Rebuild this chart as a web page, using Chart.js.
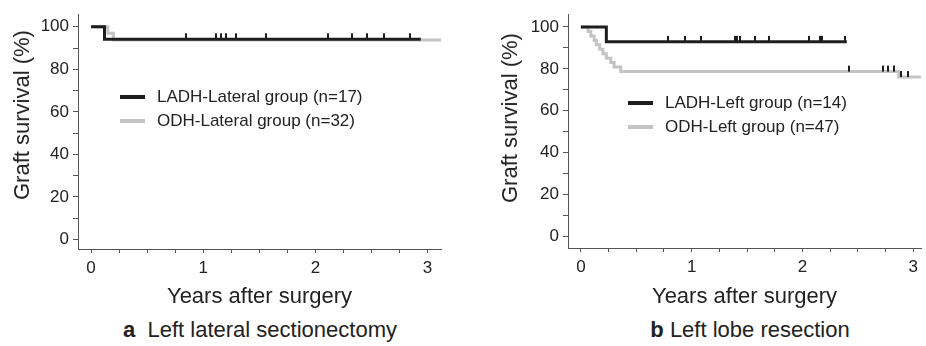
<!DOCTYPE html>
<html>
<head>
<meta charset="utf-8">
<script src="https://cdn.jsdelivr.net/npm/chart.js@4.4.1/dist/chart.umd.min.js"></script>
<style>
  body { margin: 0; background: #fff; width: 926px; height: 346px; overflow: hidden;
         font-family: "Liberation Sans", Arial, sans-serif; color: #222; position: relative; }
  .panel { position: absolute; top: 0; width: 463px; height: 346px; }
  .panel canvas { position: absolute; left: 0; top: 0; }
  .legend { position: absolute; font-size: 17px; line-height: 24px; white-space: nowrap; }
  .legend div { display: flex; align-items: center; height: 24px; }
  .sw { display: inline-block; width: 25px; height: 4px; margin-right: 12px; }
  .ytitle { position: absolute; font-size: 22px; white-space: nowrap;
            transform: translate(-50%, -50%) rotate(-90deg); }
  .caption { position: absolute; top: 317px; font-size: 22px; line-height: 26px;
             white-space: nowrap; transform: translateX(-50%); }
</style>
</head>
<body>
<div class="panel" style="left:0">
  <canvas id="chartA" width="463" height="310"></canvas>
  <div class="ytitle" style="left:22px;top:115px">Graft survival (%)</div>
  <div class="legend" style="left:120px;top:85px">
    <div><span class="sw" style="background:#1e1e1e"></span>LADH-Lateral group (n=17)</div>
    <div><span class="sw" style="background:#c4c4c4"></span>ODH-Lateral group (n=32)</div>
  </div>
  <div class="caption" style="left:260px"><b>a</b>&nbsp; Left lateral sectionectomy</div>
</div>
<div class="panel" style="left:463px">
  <canvas id="chartB" width="463" height="310"></canvas>
  <div class="ytitle" style="left:47px;top:118px">Graft survival (%)</div>
  <div class="legend" style="left:165px;top:91px">
    <div><span class="sw" style="background:#1e1e1e"></span>LADH-Left group (n=14)</div>
    <div><span class="sw" style="background:#c4c4c4"></span>ODH-Left group (n=47)</div>
  </div>
  <div class="caption" style="left:287px"><b>b</b> Left lobe resection</div>
</div>
<script>
// panel a: left lateral sectionectomy
const latLadhTimes = [0, 0.12, 2.94];
const latLadhSurv = [100, 94.1, 94.1];
const latLadhCensor = [0.85, 1.11, 1.16, 1.20, 1.29, 1.56, 2.11, 2.33, 2.46, 2.61, 2.84];
const latOdhTimes = [0, 0.15, 0.2, 3.12];
const latOdhSurv = [100, 96.9, 93.8, 93.8];

// panel b: left lobe resection
const lobeLadhTimes = [0, 0.23, 2.40];
const lobeLadhSurv = [100, 92.9, 92.9];
const lobeLadhCensor = [0.79, 0.94, 1.08, 1.39, 1.41, 1.44, 1.57, 1.70, 2.06, 2.16, 2.18, 2.38];
const lobeOdhTimes = [0, 0.065, 0.09, 0.12, 0.14, 0.17, 0.2, 0.23, 0.27, 0.3, 0.36, 2.87, 3.07];
const lobeOdhSurv = [100, 97.9, 95.7, 93.6, 91.5, 89.4, 87.2, 85.1, 83.0, 80.9, 78.7, 76.1, 76.1];
const lobeOdhCensor = [2.42, 2.73, 2.77, 2.83, 2.89, 2.95];

const yTicks = [0, 10, 20, 30, 40, 50, 60, 70, 80, 90, 100];
const yLabels = [0, 20, 40, 60, 80, 100];
const xTicks = [0, 0.25, 0.5, 0.75, 1, 1.25, 1.5, 1.75, 2, 2.25, 2.5, 2.75, 3];
const xLabels = [0, 1, 2, 3];

const DARK = "#1e1e1e";
const GRAY = "#c4c4c4";
const AXIS = "#555";

// censor mark: short vertical tick sitting on top of the curve
const tickImg = document.createElement("canvas");
tickImg.width = 2;
tickImg.height = 14;
const tctx = tickImg.getContext("2d");
tctx.fillStyle = DARK;
tctx.fillRect(0, 1, 2, 6);

function survAt(times, surv, t) {
  let s = surv[0];
  times.forEach((tt, i) => { if (tt <= t) s = surv[i]; });
  return s;
}

function curve(times, surv, color) {
  return {
    data: times.map((t, i) => ({ x: t, y: surv[i] })),
    borderColor: color, borderWidth: 3, stepped: true,
    pointRadius: 0, fill: false,
  };
}

function censors(times, surv, marks) {
  return {
    data: marks.map(t => ({ x: t, y: survAt(times, surv, t) })),
    showLine: false, pointStyle: tickImg, pointRadius: 4,
  };
}

function makeChart(id, cfg) {
  new Chart(document.getElementById(id), {
    type: "line",
    data: { datasets: cfg.datasets },
    options: {
      responsive: false,
      animation: false,
      layout: { padding: { left: 0, right: cfg.padRight, top: cfg.padTop, bottom: 0 } },
      plugins: { legend: { display: false }, tooltip: { enabled: false } },
      scales: {
        x: {
          type: "linear", min: -0.116, max: cfg.xMax,
          afterBuildTicks: s => { s.ticks = xTicks.map(v => ({ value: v })); },
          afterFit: s => { s.height = cfg.xHeight; },
          ticks: {
            autoSkip: false, maxRotation: 0, padding: 5, color: "#222",
            font: { family: "Liberation Sans", size: 17 },
            callback: v => (xLabels.includes(v) ? String(v) : ""),
          },
          grid: { drawOnChartArea: false, drawTicks: true, tickLength: 4, color: AXIS },
          border: { color: AXIS, width: 1 },
          title: {
            display: true, text: "Years after surgery", color: "#222",
            font: { family: "Liberation Sans", size: 22 }, padding: { top: 0, bottom: 0 },
          },
        },
        y: {
          type: "linear", min: cfg.yMin, max: cfg.yMax,
          afterBuildTicks: s => { s.ticks = yTicks.map(v => ({ value: v })); },
          afterFit: s => { s.width = cfg.yWidth; },
          ticks: {
            autoSkip: false, padding: 4, color: "#222",
            font: { family: "Liberation Sans", size: 17 },
            callback: v => (yLabels.includes(v) ? String(v) : ""),
          },
          grid: { drawOnChartArea: false, drawTicks: true, tickLength: 5, color: AXIS },
          border: { color: AXIS, width: 1 },
        },
      },
    },
  });
}

makeChart("chartA", {
  padRight: 22, padTop: 5, xMax: 3.12, yMin: -4.5, yMax: 105.9, yWidth: 78, xHeight: 61,
  datasets: [
    censors(latLadhTimes, latLadhSurv, latLadhCensor),
    curve(latLadhTimes, latLadhSurv, DARK),
    curve(latOdhTimes, latOdhSurv, GRAY),
  ],
});

makeChart("chartB", {
  padRight: 0, padTop: 4, xMax: 3.07, yMin: -5.5, yMax: 106.1, yWidth: 105, xHeight: 62,
  datasets: [
    censors(lobeLadhTimes, lobeLadhSurv, lobeLadhCensor),
    censors(lobeOdhTimes, lobeOdhSurv, lobeOdhCensor),
    curve(lobeLadhTimes, lobeLadhSurv, DARK),
    curve(lobeOdhTimes, lobeOdhSurv, GRAY),
  ],
});
</script>
</body>
</html>
